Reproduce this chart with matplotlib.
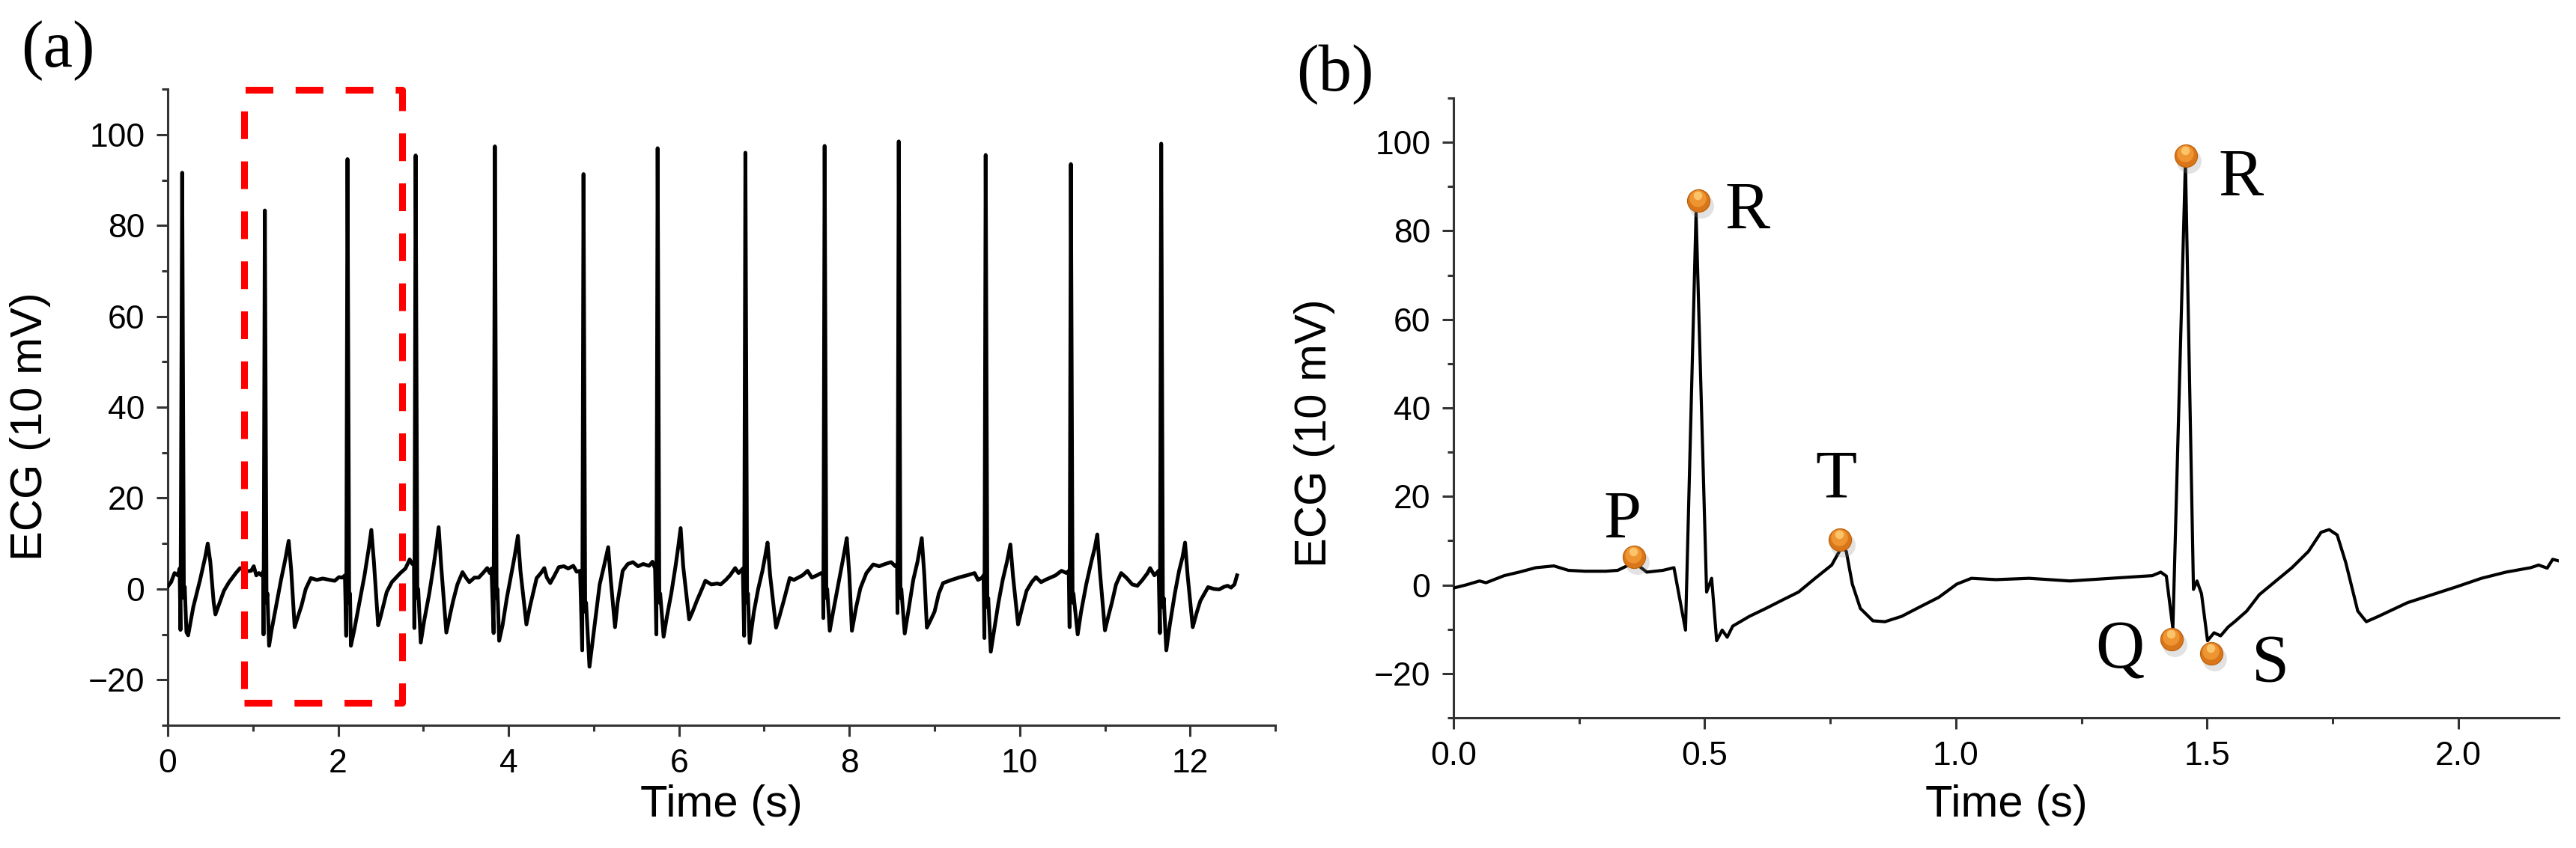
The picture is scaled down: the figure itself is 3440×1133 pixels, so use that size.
"""ECG recording (a) and a zoom on two beats with the P, Q, R, S, T points (b)."""

import matplotlib

matplotlib.use("Agg")
import matplotlib.pyplot as plt
from matplotlib.patches import Rectangle
from matplotlib.transforms import offset_copy

# --- panel a: full recording, vertices ----------------------------------------
trace_a_time = [
    0.00, 0.04, 0.08, 0.12, 0.14, 0.15, 0.17, 0.19, 0.20, 0.22, 0.24, 0.30, 0.38,
    0.44, 0.47, 0.50, 0.54, 0.56, 0.60, 0.66, 0.72, 0.80, 0.85, 0.93, 0.98, 1.01,
    1.04, 1.07, 1.10, 1.12,
    1.125, 1.14, 1.16, 1.17, 1.19, 1.22, 1.27, 1.33, 1.38, 1.42, 1.45, 1.49, 1.53,
    1.57, 1.62, 1.68, 1.75, 1.82, 1.90, 1.96, 2.01, 2.05, 2.08,
    2.095, 2.11, 2.13, 2.14, 2.15, 2.19, 2.25, 2.31, 2.36, 2.39, 2.42, 2.47, 2.50,
    2.57, 2.63, 2.68, 2.73, 2.79, 2.84, 2.87, 2.89,
    2.895, 2.91, 2.93, 2.94, 2.97, 3.01, 3.07, 3.12, 3.15, 3.18, 3.21, 3.27, 3.31,
    3.35, 3.40, 3.46, 3.50, 3.54, 3.60, 3.65, 3.70, 3.75, 3.78, 3.80,
    3.825, 3.84, 3.86, 3.87, 3.89, 3.93, 3.98, 4.03, 4.07, 4.11, 4.14, 4.21, 4.25,
    4.30, 4.33, 4.38, 4.42, 4.45, 4.49, 4.54, 4.59, 4.65, 4.70, 4.76, 4.80, 4.84,
    4.865, 4.88, 4.90, 4.91, 4.95, 4.99, 5.03, 5.07, 5.12, 5.17, 5.20, 5.25, 5.28,
    5.34, 5.40, 5.46, 5.52, 5.58, 5.65, 5.69, 5.72,
    5.735, 5.75, 5.77, 5.78, 5.82, 5.86, 5.91, 5.96, 5.99, 6.02, 6.05, 6.12, 6.16,
    6.21, 6.27, 6.31, 6.38, 6.45, 6.49, 6.55, 6.60, 6.66, 6.70, 6.75,
    6.765, 6.78, 6.80, 6.81, 6.83, 6.88, 6.93, 6.98, 7.01, 7.04, 7.07, 7.14, 7.18,
    7.23, 7.30, 7.35, 7.40, 7.45, 7.51, 7.56, 7.62, 7.67, 7.69,
    7.695, 7.71, 7.73, 7.74, 7.77, 7.81, 7.86, 7.91, 7.94, 7.97, 8.00, 8.03, 8.08,
    8.13, 8.20, 8.28, 8.35, 8.42, 8.49, 8.54, 8.56,
    8.565, 8.58, 8.60, 8.61, 8.65, 8.70, 8.75, 8.80, 8.85, 8.88, 8.91, 8.95, 9.00,
    9.05, 9.10, 9.20, 9.30, 9.38, 9.47, 9.51, 9.56, 9.575,
    9.585, 9.60, 9.62, 9.63, 9.66, 9.70, 9.75, 9.80, 9.85, 9.89, 9.92, 9.98, 10.03,
    10.08, 10.14, 10.19, 10.25, 10.30, 10.36, 10.42, 10.49, 10.55, 10.575,
    10.585, 10.60, 10.62, 10.63, 10.68, 10.72, 10.78, 10.84, 10.88, 10.91, 10.94,
    11.00, 11.04, 11.08, 11.13, 11.19, 11.25, 11.32, 11.38, 11.44, 11.50, 11.53,
    11.58, 11.63,
    11.645, 11.66, 11.68, 11.69, 11.72, 11.76, 11.82, 11.87, 11.91, 11.94, 11.97,
    12.03, 12.08, 12.12, 12.21, 12.28, 12.34, 12.40, 12.44, 12.48, 12.52, 12.55,
]
trace_a_value = [
    0.5, 1.5, 3.5, 3.0, 4.5, -9.0, 91.6, -2.0, 0.5, -9.5, -10.2, -4.0, 2.0,
    7.0, 10.0, 6.0, -3.0, -5.6, -3.5, -0.4, 1.5, 3.5, 4.6, 3.9, 4.0, 5.0,
    3.0, 3.5, 3.0, 3.8,
    -10.0, 83.3, -3.0, -1.0, -12.5, -9.0, -4.0, 2.0, 6.5, 10.6, 4.0, -8.4, -6.0,
    -3.7, 0.0, 2.4, 2.0, 2.3, 2.0, 1.8, 2.6, 2.5, 3.0,
    -10.3, 94.6, -3.0, -1.0, -12.5, -9.0, -3.0, 3.0, 9.0, 13.0, 6.0, -8.0, -6.0,
    -0.7, 1.5, 2.5, 3.5, 4.5, 6.5, 5.5, 6.0,
    -8.6, 95.4, -2.0, 0.0, -11.8, -7.0, -1.0, 5.0, 9.0, 13.6, 5.0, -9.6, -6.0,
    -2.6, 1.0, 3.7, 2.5, 1.5, 2.5, 2.5, 3.5, 4.6, 3.5, 4.5,
    -9.7, 97.4, -2.0, 0.0, -11.4, -8.0, -2.0, 3.0, 7.0, 11.7, 4.0, -7.8, -4.0,
    0.0, 2.4, 3.5, 4.6, 2.5, 1.3, 3.0, 4.8, 5.0, 4.5, 5.1, 3.8, 4.0,
    -13.5, 91.3, -5.0, -3.0, -17.1, -11.0, -5.0, 1.0, 5.0, 9.2, 2.0, -8.4, -3.0,
    4.0, 5.5, 5.9, 5.0, 5.5, 5.1, 6.0, 4.5,
    -10.0, 97.0, -3.0, -1.0, -10.5, -6.0, -1.0, 5.0, 9.0, 13.4, 5.0, -6.7, -5.0,
    -2.6, 0.0, 1.8, 1.0, 1.2, 1.0, 2.0, 3.0, 4.6, 3.5, 4.5,
    -10.3, 96.0, -3.0, -1.0, -11.9, -5.0, 0.0, 4.0, 7.0, 10.2, 3.0, -8.5, -6.0,
    -2.6, 2.4, 2.0, 2.5, 3.0, 4.0, 2.5, 3.0, 3.5, 3.0,
    -6.4, 97.5, -2.0, 0.0, -9.2, -5.0, 0.0, 5.0, 8.0, 11.2, 3.0, -9.2, -4.0,
    0.2, 3.5, 5.4, 5.0, 5.5, 5.9, 5.0, 5.5,
    -5.3, 98.5, -2.0, 0.0, -9.8, -4.0, 2.0, 6.0, 11.2, 3.0, -8.5, -7.0, -5.0,
    -1.0, 1.3, 2.0, 2.6, 3.0, 3.5, 2.0, 2.5, 3.0,
    -10.8, 95.5, -4.0, -2.0, -13.8, -9.0, -3.0, 2.0, 6.0, 9.8, 3.0, -7.8, -4.0,
    -0.4, 1.5, 2.6, 1.5, 2.0, 2.5, 3.0, 4.0, 3.5, 4.0,
    -8.4, 93.5, -3.0, -1.0, -10.0, -5.0, 1.0, 6.0, 9.0, 12.0, 4.0,
    -9.1, -6.0, -3.1, 1.0, 3.5, 2.5, 1.0, 0.7, 2.0, 3.5, 4.6,
    3.0, 4.0,
    -9.7, 98.0, -4.0, -2.0, -13.5, -8.0, -1.0, 4.0, 7.0, 10.2, 3.0,
    -8.4, -5.0, -2.6, 0.4, 0.0, -0.1, 0.5, 0.7, 0.3, 1.0, 3.0,
]

# window that panel b enlarges
window_time = (0.90, 2.75)
window_value = (-25.0, 109.8)

# --- panel b: two beats --------------------------------------------------------
trace_b_time = [
    0.000, 0.025, 0.052, 0.065, 0.101, 0.131, 0.164, 0.200, 0.229, 0.262, 0.303,
    0.327, 0.360, 0.385, 0.417, 0.439, 0.462, 0.483, 0.504, 0.514, 0.524, 0.535,
    0.545, 0.556, 0.589, 0.622, 0.655, 0.687, 0.720, 0.753, 0.773, 0.782, 0.794,
    0.810, 0.835, 0.859, 0.892, 0.933, 0.966, 1.002, 1.031, 1.080, 1.146, 1.227,
    1.309, 1.391, 1.408, 1.419, 1.432, 1.457, 1.473, 1.480, 1.489, 1.501, 1.514,
    1.527, 1.542, 1.555, 1.579, 1.604, 1.637, 1.669, 1.702, 1.727, 1.743, 1.759,
    1.776, 1.800, 1.817, 1.841, 1.899, 1.948, 1.997, 2.046, 2.095, 2.144, 2.160,
    2.177, 2.188, 2.201,
]
trace_b_value = [
    -0.7, 0.0, 0.9, 0.5, 2.1, 2.9, 3.9, 4.3, 3.3, 3.1, 3.1,
    3.3, 5.1, 2.9, 3.3, 3.9, -10.2, 84.0, -1.6, 1.5, -12.6, -10.2,
    -11.8, -9.3, -7.1, -5.3, -3.4, -1.6, 1.5, 4.5, 8.6, 7.6, 0.2,
    -5.3, -8.1, -8.3, -7.1, -4.7, -2.8, 0.2, 1.5, 1.2, 1.5, 0.9,
    1.5, 2.1, 2.9, 2.0, -9.8, 95.7, -1.0, 0.9, -2.0, -12.6, -10.8,
    -11.5, -9.5, -8.3, -5.9, -2.2, 0.9, 3.9, 7.6, 11.9, 12.5, 11.3,
    5.1, -5.9, -8.3, -7.1, -4.0, -2.2, -0.4, 1.5, 2.9, 3.9, 4.5,
    3.8, 5.8, 5.4,
]

# marked points of the waveform
wave_labels = ["P", "R", "T", "Q", "R", "S"]
wave_time = [0.36, 0.488, 0.770, 1.430, 1.458, 1.509]
wave_value = [6.4, 86.8, 10.3, -12.2, 97.0, -15.4]
label_time = [0.336, 0.540, 0.761, 1.327, 1.522, 1.627]
label_value = [10.6, 80.4, 19.8, -18.7, 87.8, -22.0]
label_align = ["center", "left", "center", "center", "left", "center"]

SANS = "Liberation Sans"
SERIF = "Liberation Serif"
AXIS_GREY = "#333333"


def style_axes(ax, xlim, xmajor, xminor, xfmt):
    ax.set_xlim(*xlim)
    ax.set_ylim(-30, 110)
    ax.spines[["top", "right"]].set_visible(False)
    for side in ("left", "bottom"):
        ax.spines[side].set_linewidth(2.2)
        ax.spines[side].set_color(AXIS_GREY)
    ax.set_xticks(xmajor)
    ax.set_xticks(xminor, minor=True)
    ax.set_xticklabels([xfmt.format(v) for v in xmajor])
    ax.set_yticks(range(-20, 101, 20))
    ax.set_yticks(range(-30, 111, 20), minor=True)
    ax.tick_params(which="both", direction="out", color=AXIS_GREY, width=2.2)
    ax.tick_params(which="major", length=11, pad=11, labelsize=32)
    ax.tick_params(which="minor", length=6)
    for lab in ax.get_xticklabels() + ax.get_yticklabels():
        lab.set_family(SANS)
    ax.set_xlabel("Time (s)", fontsize=43, family=SANS)
    ax.set_ylabel("ECG (10 mV)", fontsize=43, family=SANS)


def draw_balls(fig, ax, t, v):
    def shifted(dx, dy):
        return offset_copy(ax.transData, fig=fig, x=dx, y=dy, units="dots")

    ax.scatter(t, v, s=560, color="0.55", alpha=0.25, linewidths=0,
               transform=shifted(4, -7), zorder=4, clip_on=False)
    ax.scatter(t, v, s=470, color="#D9761A", edgecolor="#B95F0C", linewidths=0.8,
               zorder=5, clip_on=False)
    ax.scatter(t, v, s=260, color="#EE9430", linewidths=0,
               transform=shifted(-1, 3), zorder=6, clip_on=False)
    ax.scatter(t, v, s=70, color="#FBC36A", linewidths=0,
               transform=shifted(-1, 7), zorder=7, clip_on=False)


def build(path):
    fig = plt.figure(figsize=(34.4, 11.33), dpi=100)
    ax_a = fig.add_axes([0.0651, 0.1447, 0.4300, 0.7502])
    ax_b = fig.add_axes([0.5642, 0.1536, 0.4291, 0.7308])

    # --- a. whole recording -------------------------------------------------
    ax_a.plot(trace_a_time, trace_a_value, color="black", linewidth=3.6,
              solid_joinstyle="round", zorder=3)
    style_axes(ax_a, (0, 13), range(0, 13, 2), range(1, 14, 2), "{:d}")
    ax_a.add_patch(Rectangle(
        (window_time[0], window_value[0]),
        window_time[1] - window_time[0], window_value[1] - window_value[0],
        fill=False, edgecolor="#FF0000", linewidth=6.5,
        linestyle=(0, (4.1, 3.3)), joinstyle="round", clip_on=False, zorder=4,
    ))
    ax_a.xaxis.set_label_coords(0.5, -0.093)
    ax_a.yaxis.set_label_coords(-0.1056, 0.47)

    # --- b. two beats with the wave points ---------------------------------
    ax_b.plot(trace_b_time, trace_b_value, color="black", linewidth=3.0,
              solid_joinstyle="round", zorder=3)
    style_axes(ax_b, (0, 2.2), [0, 0.5, 1.0, 1.5, 2.0],
               [0.25, 0.75, 1.25, 1.75], "{:.1f}")
    draw_balls(fig, ax_b, wave_time, wave_value)
    for text, x, y, ha in zip(wave_labels, label_time, label_value, label_align):
        ax_b.text(x, y, text, ha=ha, va="baseline", fontsize=65, family=SERIF)
    ax_b.xaxis.set_label_coords(0.5, -0.1075)
    ax_b.yaxis.set_label_coords(-0.107, 0.459)

    fig.text(0.0081, 0.9214, "(a)", fontsize=64, family=SERIF, va="baseline")
    fig.text(0.5032, 0.8932, "(b)", fontsize=64, family=SERIF, va="baseline")

    fig.savefig(path, dpi=100)
    plt.close(fig)


if __name__ == "__main__":
    build("out.png")
